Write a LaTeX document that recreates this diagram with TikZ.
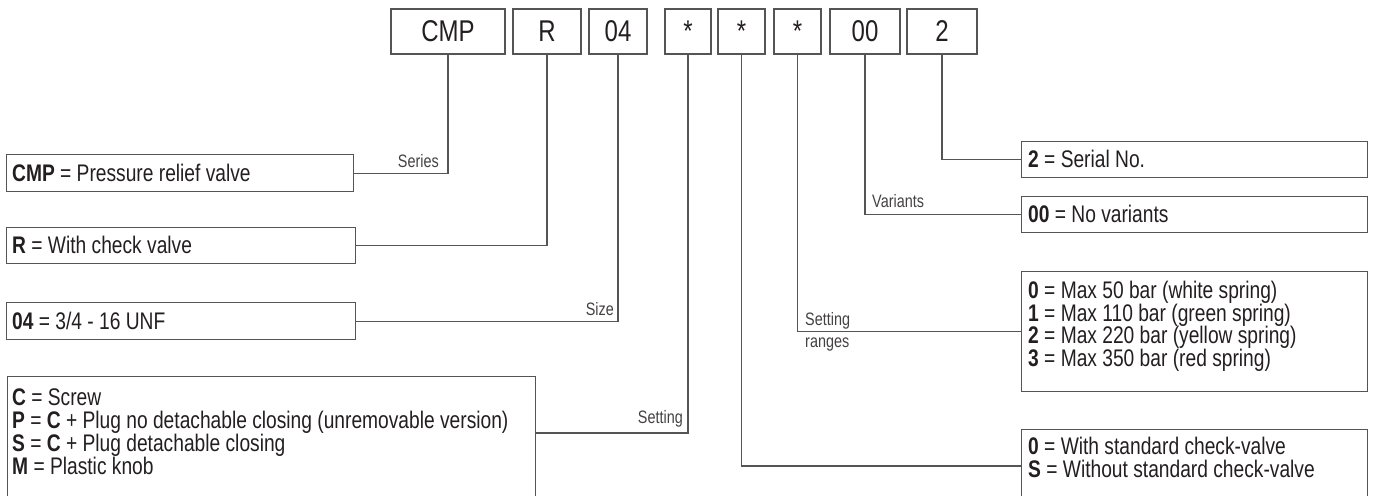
\documentclass[tikz,border=0pt]{standalone}
\usepackage{fontspec}
\setmainfont{Liberation Sans}[FakeStretch=0.8]
\usetikzlibrary{calc}
\definecolor{lncol}{HTML}{555555}
\definecolor{txtcol}{HTML}{231F20}
\tikzset{
  ln/.style={draw=lncol, line width=1.2pt},
  codebox/.style={draw=lncol, line width=1.2pt, minimum height=45pt, inner sep=0pt,
    font=\fontsize{30}{30}\selectfont, text=txtcol},
  descbox/.style={draw=lncol, line width=1.2pt, inner sep=0pt, anchor=north west},
  dtext/.style={anchor=base west, inner sep=0pt, font=\fontsize{24}{24}\selectfont, text=txtcol},
  lab/.style={inner sep=0pt, font=\fontsize{18}{18}\selectfont, text=txtcol!85},
}
\begin{document}
\begin{tikzpicture}[x=1pt,y=-1pt]
\useasboundingbox (0,0) rectangle (1375,495);

% code boxes
\node[codebox, minimum width=114pt] (k1) at (448,31.5) {CMP};
\node[codebox, minimum width=68pt] (k2) at (547,31.5) {R};
\node[codebox, minimum width=58pt] (k3) at (618,31.5) {04};
\node[codebox, minimum width=46pt] (k4) at (688,31.5) {*};
\node[codebox, minimum width=47pt] (k5) at (741.5,31.5) {*};
\node[codebox, minimum width=47pt] (k6) at (797.5,31.5) {*};
\node[codebox, minimum width=70pt] (k7) at (865,31.5) {00};
\node[codebox, minimum width=70pt] (k8) at (942,31.5) {2};

% left description boxes
\node[descbox, minimum width=347pt, minimum height=37pt] (d1) at (6,154) {};
\node[descbox, minimum width=349pt, minimum height=36pt] (d2) at (6,227) {};
\node[descbox, minimum width=349pt, minimum height=37pt] (d3) at (6,302) {};
\node[descbox, minimum width=528pt, minimum height=130pt] (d4) at (7,376) {};

% right description boxes
\node[descbox, minimum width=346pt, minimum height=36pt] (d5) at (1021,141) {};
\node[descbox, minimum width=346pt, minimum height=36pt] (d6) at (1021,196) {};
\node[descbox, minimum width=346pt, minimum height=120pt] (d7) at (1021,271) {};
\node[descbox, minimum width=346pt, minimum height=80pt] (d8) at (1021,429) {};

% texts
\node[dtext] (t1) at (12,181) {\textbf{CMP} = Pressure relief valve};
\node[dtext] (t2) at (12,253.5) {\textbf{R} = With check valve};
\node[dtext] (t3) at (12,329) {\textbf{04} = 3/4 - 16 UNF};
\node[dtext] (t4a) at (12,405.5) {\textbf{C} = Screw};
\node[dtext] (t4b) at (12,428.5) {\textbf{P} = \textbf{C} + Plug no detachable closing (unremovable version)};
\node[dtext] (t4c) at (12,451.5) {\textbf{S} = \textbf{C} + Plug detachable closing};
\node[dtext] (t4d) at (12,474.5) {\textbf{M} = Plastic knob};

\node[dtext] (t5) at (1028,167.5) {\textbf{2} = Serial No.};
\node[dtext] (t6) at (1028,222.5) {\textbf{00} = No variants};
\node[dtext] (t7a) at (1028,298.5) {\textbf{0} = Max 50 bar (white spring)};
\node[dtext] (t7b) at (1028,321) {\textbf{1} = Max 110 bar (green spring)};
\node[dtext] (t7c) at (1028,343.5) {\textbf{2} = Max 220 bar (yellow spring)};
\node[dtext] (t7d) at (1028,366) {\textbf{3} = Max 350 bar (red spring)};
\node[dtext] (t8a) at (1028,454.5) {\textbf{0} = With standard check-valve};
\node[dtext] (t8b) at (1028,477.5) {\textbf{S} = Without standard check-valve};

% connector end points
\coordinate (c4) at ($(d4.north east)+(0,57)$);
\coordinate (c8) at ($(d8.north west)+(0,37)$);

% connectors
\draw[ln] (k1.south) |- (d1.east);
\draw[ln] (k2.south) |- (d2.east);
\draw[ln] (k3.south) |- (d3.east);
\draw[ln] (k4.south) |- (c4);
\draw[ln] (k5.south) |- (c8);
\draw[ln] (k6.south) |- (d7.west);
\draw[ln] (k7.south) |- (d6.west);
\draw[ln] (k8.south) |- (d5.west);

% labels
\node[lab, anchor=base east] (l1) at (439,167) {Series};
\node[lab, anchor=base east] (l3) at (614,315) {Size};
\node[lab, anchor=base east] (l4) at (683,423) {Setting};
\node[lab, anchor=base west] (l7) at (872,207) {Variants};
\node[lab, anchor=base west] (l6a) at (805,325) {Setting};
\node[lab, anchor=base west] (l6b) at (805,347) {ranges};
\end{tikzpicture}
\end{document}
